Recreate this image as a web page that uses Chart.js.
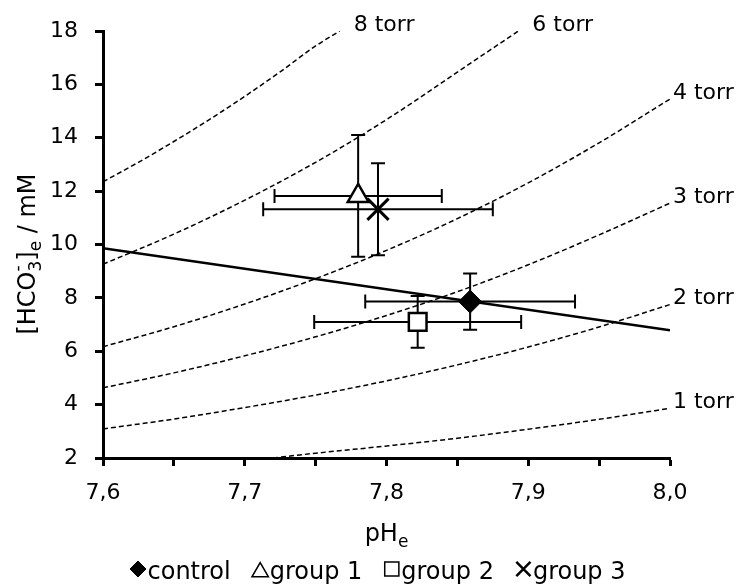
<!DOCTYPE html>
<html>
<head>
<meta charset="utf-8">
<script src="https://cdn.jsdelivr.net/npm/chart.js@4.4.1/dist/chart.umd.min.js"></script>
<style>
  html, body { margin: 0; padding: 0; background: #fff; }
  #wrap { width: 736px; height: 586px; position: relative; }
</style>
</head>
<body>
<div id="wrap"><canvas id="grafico"></canvas></div>
<script>
// Isopletas de PCO2
const phGrid = [7.60, 7.65, 7.70, 7.75, 7.80, 7.85, 7.90, 7.95, 8.00];
const iso8Ph = [7.600, 7.625, 7.650, 7.675, 7.700, 7.725, 7.750, 7.767];
const iso8 = [12.35, 13.08, 13.86, 14.68, 15.55, 16.47, 17.44, 18.0];
const iso6Ph = [7.60, 7.65, 7.70, 7.75, 7.80, 7.85, 7.893];
const iso6 = [9.26, 10.39, 11.66, 13.08, 14.68, 16.46, 18.0];
const iso4 = [6.17, 6.92, 7.77, 8.72, 9.78, 10.97, 12.31, 13.81, 15.45];
const iso3 = [4.63, 5.19, 5.83, 6.54, 7.34, 8.23, 9.24, 10.36, 11.55];
const iso2 = [3.09, 3.46, 3.89, 4.36, 4.89, 5.49, 6.16, 6.91, 7.75];
const iso1Ph = [7.72, 7.75, 7.80, 7.85, 7.90, 7.95, 8.00];
const iso1 = [2.0, 2.18, 2.45, 2.74, 3.08, 3.45, 3.86];
const torrLabels = ["8 torr", "6 torr", "4 torr", "3 torr", "2 torr", "1 torr"];

// Recta de regresion
const lineaPh = [7.6, 8.0];
const lineaHco3 = [9.86, 6.79];

// Grupos (media y error)
const groupNames = ["control", "group 1", "group 2", "group 3"];
const groupPh = [7.859, 7.780, 7.822, 7.794];
const groupHco3 = [7.86, 11.82, 7.10, 11.32];
const groupPhErr = [0.074, 0.059, 0.073, 0.081];
const groupHco3Err = [1.05, 2.28, 0.97, 1.72];

const xTicks = [7.6, 7.7, 7.8, 7.9, 8.0];

const FONT = '"DejaVu Sans", "Liberation Sans", sans-serif';
Chart.defaults.font.family = FONT;
Chart.defaults.font.size = 22;
Chart.defaults.color = "#000";

const toPts = (xs, ys) => xs.map((x, i) => ({ x: x, y: ys[i] }));

const isoCurves = [
  toPts(iso8Ph, iso8),
  toPts(iso6Ph, iso6),
  toPts(phGrid, iso4),
  toPts(phGrid, iso3),
  toPts(phGrid, iso2),
  toPts(iso1Ph, iso1)
];

const markerStyles = [
  { pointStyle: "rectRot", radius: 11.5, bg: "#000", bw: 1 },
  { pointStyle: "triangle", radius: 12, bg: "#fff", bw: 2.5 },
  { pointStyle: "rect", radius: 12.5, bg: "#fff", bw: 2.5 },
  { pointStyle: "crossRot", radius: 15, bg: "#fff", bw: 3 }
];
const legendMarkers = [
  { pointStyle: "rectRot", radius: 8, bw: 1, bg: "#000", dy: 0 },
  { pointStyle: "triangle", radius: 9.5, bw: 1.5, bg: "#fff", dy: 3 },
  { pointStyle: "rect", radius: 10, bw: 1.5, bg: "#fff", dy: 0 },
  { pointStyle: "crossRot", radius: 10, bw: 2.5, bg: "#fff", dy: 0 }
];

const datasets = [];
groupNames.forEach((g, i) => {
  const m = markerStyles[i];
  datasets.push({
    label: g,
    data: [{ x: groupPh[i], y: groupHco3[i] }],
    pointStyle: m.pointStyle,
    pointRadius: m.radius,
    pointBackgroundColor: m.bg,
    pointBorderColor: "#000",
    pointBorderWidth: m.bw,
    showLine: false
  });
});
datasets.push({
  label: "regresion",
  data: toPts(lineaPh, lineaHco3),
  showLine: true,
  borderColor: "#000",
  borderWidth: 2.5,
  pointRadius: 0
});
isoCurves.forEach((pts, i) => {
  datasets.push({
    label: torrLabels[i],
    data: pts,
    showLine: true,
    borderColor: "#000",
    borderWidth: 1.5,
    borderDash: [5, 3],
    pointRadius: 0,
    cubicInterpolationMode: "monotone"
  });
});

// Barras de error
const errorBars = {
  id: "errorBars",
  beforeDatasetsDraw(chart) {
    const { ctx, scales: { x, y } } = chart;
    const cap = 7;
    ctx.save();
    ctx.strokeStyle = "#000";
    ctx.lineWidth = 2;
    groupNames.forEach((g, i) => {
      const cx = x.getPixelForValue(groupPh[i]);
      const cy = y.getPixelForValue(groupHco3[i]);
      const x0 = x.getPixelForValue(groupPh[i] - groupPhErr[i]);
      const x1 = x.getPixelForValue(groupPh[i] + groupPhErr[i]);
      const y0 = y.getPixelForValue(groupHco3[i] - groupHco3Err[i]);
      const y1 = y.getPixelForValue(groupHco3[i] + groupHco3Err[i]);
      ctx.beginPath();
      ctx.moveTo(x0, cy); ctx.lineTo(x1, cy);
      ctx.moveTo(x0, cy - cap); ctx.lineTo(x0, cy + cap);
      ctx.moveTo(x1, cy - cap); ctx.lineTo(x1, cy + cap);
      ctx.moveTo(cx, y0); ctx.lineTo(cx, y1);
      ctx.moveTo(cx - cap, y0); ctx.lineTo(cx + cap, y0);
      ctx.moveTo(cx - cap, y1); ctx.lineTo(cx + cap, y1);
      ctx.stroke();
    });
    ctx.restore();
  }
};

// Etiquetas "n torr" al final de cada curva
const torrText = {
  id: "torrText",
  afterDatasetsDraw(chart) {
    const { ctx, scales: { x, y } } = chart;
    ctx.save();
    ctx.font = "22px " + FONT;
    ctx.fillStyle = "#000";
    ctx.textBaseline = "middle";
    ctx.textAlign = "left";
    isoCurves.forEach((pts, i) => {
      const last = pts[pts.length - 1];
      const px = x.getPixelForValue(last.x);
      const py = y.getPixelForValue(last.y);
      const dx = last.y >= y.max - 0.01 ? 14 : 3;
      ctx.fillText(torrLabels[i], px + dx, py - 6);
    });
    ctx.restore();
  }
};

// Titulos de ejes y leyenda
const titlesLegend = {
  id: "titlesLegend",
  afterDraw(chart) {
    const { ctx, chartArea } = chart;
    const big = "24px " + FONT;
    const small = "17px " + FONT;
    ctx.save();
    ctx.fillStyle = "#000";
    ctx.textBaseline = "alphabetic";
    ctx.textAlign = "left";

    // eje x: pHe
    ctx.font = big;
    const wPH = ctx.measureText("pH").width;
    ctx.font = small;
    const wE = ctx.measureText("e").width;
    let xs = (chartArea.left + chartArea.right) / 2 - (wPH + wE) / 2;
    ctx.font = big;
    ctx.fillText("pH", xs, 541);
    ctx.font = small;
    ctx.fillText("e", xs + wPH, 547);

    // eje y: [HCO3-]e / mM
    const parts = [
      { t: "[HCO", f: big, dy: 0 },
      { t: "3", f: small, dy: 6, stackWith: "-" },
      { t: "]", f: big, dy: 0 },
      { t: "e", f: small, dy: 6 },
      { t: " / mM", f: big, dy: 0 }
    ];
    let total = 0;
    parts.forEach(p => {
      ctx.font = p.f;
      p.w = ctx.measureText(p.t).width;
      if (p.stackWith) p.w = Math.max(p.w, ctx.measureText(p.stackWith).width);
      total += p.w;
    });
    ctx.translate(35, 254);
    ctx.rotate(-Math.PI / 2);
    let cx = -total / 2;
    parts.forEach(p => {
      ctx.font = p.f;
      ctx.fillText(p.t, cx, p.dy);
      if (p.stackWith) ctx.fillText(p.stackWith, cx, -12);
      cx += p.w;
    });
    ctx.setTransform(1, 0, 0, 1, 0, 0);

    // leyenda
    ctx.font = big;
    const markW = 15, gapM = 2, gapItem = 22;
    const widths = groupNames.map(n => ctx.measureText(n).width);
    let sum = 0;
    widths.forEach((w, i) => { sum += markW + gapM + w + (i < widths.length - 1 ? gapItem : 0); });
    let lx = 378 - sum / 2;
    groupNames.forEach((n, i) => {
      const m = legendMarkers[i];
      ctx.fillStyle = m.bg;
      ctx.strokeStyle = "#000";
      ctx.lineWidth = m.bw;
      if (Chart.helpers && Chart.helpers.drawPoint) {
        Chart.helpers.drawPoint(ctx, { pointStyle: m.pointStyle, radius: m.radius, borderWidth: m.bw, rotation: 0 }, lx + markW / 2, 569 + m.dy);
      }
      ctx.fillStyle = "#000";
      ctx.fillText(n, lx + markW + gapM, 579);
      lx += markW + gapM + widths[i] + gapItem;
    });
    ctx.restore();
  }
};

const ctx = document.getElementById("grafico").getContext("2d");
new Chart(ctx, {
  type: "scatter",
  data: { datasets: datasets },
  options: {
    responsive: true,
    maintainAspectRatio: false,
    animation: false,
    layout: { padding: { top: 31, right: 66, left: 0, bottom: 0 } },
    plugins: {
      legend: { display: false },
      tooltip: { enabled: false }
    },
    scales: {
      x: {
        type: "linear",
        min: 7.6,
        max: 8.0,
        afterFit: s => { s.height = 128; },
        ticks: {
          stepSize: 0.05,
          autoSkip: false,
          maxRotation: 0,
          padding: 14,
          callback: v => {
            const hit = xTicks.find(t => Math.abs(t - v) < 1e-6);
            return hit !== undefined ? hit.toFixed(1).replace(".", ",") : "";
          }
        },
        grid: {
          drawOnChartArea: false,
          drawTicks: true,
          tickLength: 8,
          tickWidth: 3,
          tickColor: "#000",
          color: "#000"
        },
        border: { color: "#000", width: 3 }
      },
      y: {
        type: "linear",
        min: 2,
        max: 18,
        afterFit: s => { s.width = 103; },
        ticks: { stepSize: 2, padding: 17 },
        grid: {
          drawOnChartArea: false,
          drawTicks: true,
          tickLength: 8,
          tickWidth: 3,
          tickColor: "#000",
          color: "#000"
        },
        border: { color: "#000", width: 3 }
      }
    }
  },
  plugins: [errorBars, torrText, titlesLegend]
});
</script>
</body>
</html>
